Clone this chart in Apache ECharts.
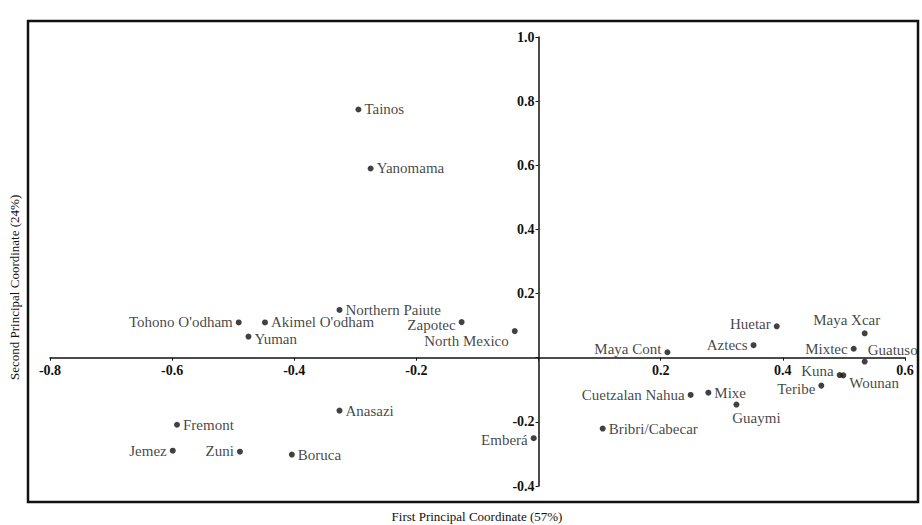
<!DOCTYPE html>
<html>
<head>
<meta charset="utf-8">
<script src="https://cdn.jsdelivr.net/npm/echarts@6/dist/echarts.min.js"></script>
<style>
  html, body { margin: 0; padding: 0; background: #fff; }
  #chart { width: 922px; height: 525px; }
</style>
</head>
<body>
<div id="chart"></div>
<script>
// groups and their coordinates on the first two principal coordinates
const names = ['Tainos', 'Yanomama', 'Northern Paiute', 'Zapotec', 'North Mexico',
  "Tohono O'odham", "Akimel O'odham", 'Yuman', 'Anasazi', 'Fremont', 'Jemez', 'Zuni',
  'Boruca', 'Emberá', 'Maya Cont', 'Aztecs', 'Huetar', 'Maya Xcar', 'Mixtec', 'Guatuso',
  'Kuna', 'Wounan', 'Teribe', 'Cuetzalan Nahua', 'Mixe', 'Guaymi', 'Bribri/Cabecar'];
const pc1 = [-0.295, -0.275, -0.326, -0.126, -0.039,
  -0.491, -0.448, -0.475, -0.326, -0.592, -0.599, -0.489,
  -0.404, -0.008, 0.211, 0.352, 0.390, 0.534, 0.516, 0.534,
  0.493, 0.499, 0.463, 0.249, 0.278, 0.324, 0.105];
const pc2 = [0.774, 0.590, 0.149, 0.111, 0.083,
  0.110, 0.110, 0.066, -0.165, -0.209, -0.290, -0.293,
  -0.302, -0.251, 0.017, 0.039, 0.098, 0.076, 0.028, -0.012,
  -0.054, -0.055, -0.087, -0.116, -0.109, -0.146, -0.221];

const xTitle = 'First Principal Coordinate (57%)';
const yTitle = 'Second Principal Coordinate (24%)';

// where each label sits relative to its dot
const labelPos = {
  'Zapotec': ['left', [0, 3]],
  'North Mexico': ['left', [0, 10]],
  "Tohono O'odham": ['left', [0, 0]],
  'Yuman': ['right', [0, 2]],
  'Jemez': ['left', [0, 0]],
  'Zuni': ['left', [0, -1]],
  'Emberá': ['left', [0, 2]],
  'Maya Cont': ['left', [0, -3]],
  'Aztecs': ['left', [0, 0]],
  'Huetar': ['left', [0, -2]],
  'Maya Xcar': ['top', [-18, 0]],
  'Mixtec': ['left', [0, 0]],
  'Guatuso': ['right', [-3, -12]],
  'Kuna': ['left', [0, -4]],
  'Wounan': ['right', [0, 8]],
  'Teribe': ['left', [0, 3]],
  'Cuetzalan Nahua': ['left', [0, 0]],
  'Guaymi': ['bottom', [20, 0]]
};

const font = 'Liberation Serif';

const points = names.map((n, i) => {
  const p = labelPos[n] || ['right', [0, 0]];
  return {
    name: n,
    value: [pc1[i], pc2[i]],
    label: { position: p[0], offset: p[1] }
  };
});

const chart = echarts.init(document.getElementById('chart'), null, { renderer: 'svg' });

const tickFmt = v => (Math.abs(v) < 1e-9 ? '' : v.toFixed(1));

// grid box: x -0.8..0.6 over 855px, y -0.4..1.0 over 449px
const gLeft = 50, gTop = 37, gW = 855, gH = 449;
const x0 = gLeft + 0.8 / 1.4 * gW;
const y0 = gTop + 1.0 / 1.4 * gH;

chart.setOption({
  backgroundColor: '#fff',
  animation: false,
  grid: { left: gLeft, top: gTop, width: gW, height: gH },
  xAxis: {
    type: 'value', min: -0.8, max: 0.6, interval: 0.2,
    position: 'bottom', offset: -(gTop + gH - y0),
    splitLine: { show: false },
    axisLine: { onZero: false, lineStyle: { color: '#111', width: 1.5 } },
    axisTick: { length: 3, lineStyle: { color: '#111' } },
    axisLabel: { formatter: tickFmt, color: '#111', fontFamily: font, fontSize: 14, fontWeight: 'bold', margin: 6 }
  },
  yAxis: {
    type: 'value', min: -0.4, max: 1.0, interval: 0.2,
    position: 'left', offset: -(x0 - gLeft),
    splitLine: { show: false },
    axisLine: { onZero: false, lineStyle: { color: '#111', width: 1.5 } },
    axisTick: { length: 3, lineStyle: { color: '#111' } },
    axisLabel: { formatter: tickFmt, color: '#111', fontFamily: font, fontSize: 14, fontWeight: 'bold', margin: 4 }
  },
  graphic: [
    {
      type: 'rect', silent: true,
      shape: { x: 28, y: 21, width: 890, height: 481 },
      style: { fill: 'none', stroke: '#111', lineWidth: 2.5 }
    },
    {
      type: 'text', x: 477, y: 510,
      style: { text: xTitle, fill: '#111', font: '13px "Liberation Serif"', textAlign: 'center' }
    },
    {
      type: 'text', x: 8, y: 380, rotation: Math.PI / 2,
      style: { text: yTitle, fill: '#111', font: '13px "Liberation Serif"' }
    }
  ],
  series: [{
    type: 'scatter',
    symbolSize: 6,
    itemStyle: { color: '#111' },
    label: {
      show: true, formatter: '{b}', distance: 3,
      color: '#111', fontFamily: font, fontSize: 15
    },
    data: points
  }]
});
</script>
</body>
</html>
